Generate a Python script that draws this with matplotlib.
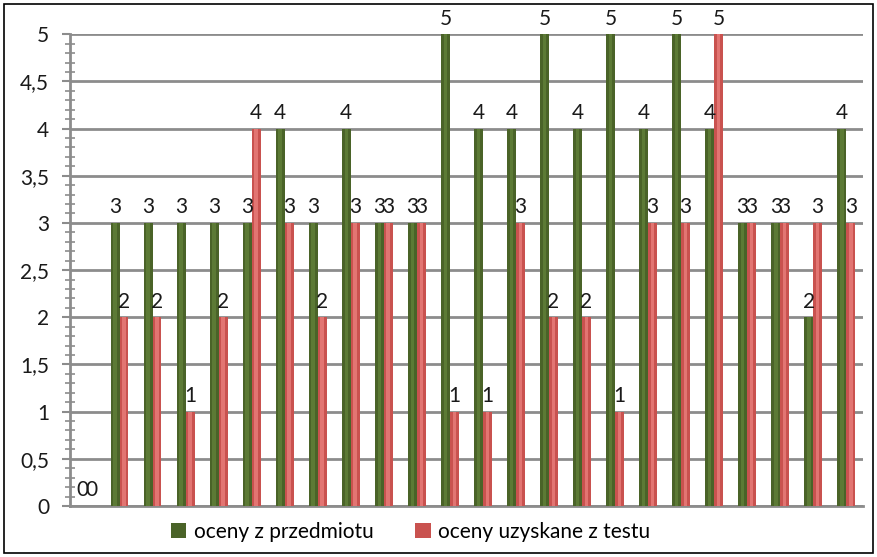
import matplotlib.pyplot as plt
import numpy as np
from matplotlib.ticker import MultipleLocator, FuncFormatter
from matplotlib.patches import Rectangle

plt.rcParams['font.family'] = ['Lato', 'DejaVu Sans']

przedmiot = [0, 3, 3, 3, 3, 3, 4, 3, 4, 3, 3, 5, 4, 4, 5, 4, 5, 4, 5, 4, 3, 3, 2, 4]
test = [0, 2, 2, 1, 2, 4, 3, 2, 3, 3, 3, 1, 1, 3, 2, 2, 1, 3, 3, 5, 3, 3, 3, 3]
names = ['oceny z przedmiotu', 'oceny uzyskane z testu']

green = '#4A6328'
green_hi = '#5C7A35'
red = '#C9524F'
red_hi = '#E27572'
grid_c = '#8C8C8C'

x = np.arange(len(przedmiot))
w = 0.27

fig = plt.figure(figsize=(8.77, 5.57), dpi=100)
ax = fig.add_axes([0.0798, 0.0916, 0.904, 0.847])

b1 = ax.bar(x - w / 2, przedmiot, w, color=green, zorder=3, label=names[0])
b2 = ax.bar(x + w / 2, test, w, color=red, zorder=3, label=names[1])
# lighter strip in the middle of each bar for a rounded look
ax.bar(x - w / 2, przedmiot, w * 0.4, color=green_hi, zorder=3.5)
ax.bar(x + w / 2, test, w * 0.4, color=red_hi, zorder=3.5)

for bars in (b1, b2):
    for r in bars:
        h = r.get_height()
        ax.annotate('%d' % h, (r.get_x() + r.get_width() / 2, h),
                    xytext=(0, 4), textcoords='offset points',
                    ha='center', va='bottom', fontsize=15, color='#1a1a1a',
                    zorder=5)

ax.set_xlim(-0.5, len(przedmiot) - 0.5)
ax.set_ylim(0, 5)
ax.yaxis.set_major_locator(MultipleLocator(0.5))
ax.yaxis.set_minor_locator(MultipleLocator(0.1))
ax.yaxis.set_major_formatter(FuncFormatter(lambda v, p: ('%g' % v).replace('.', ',')))
ax.tick_params(axis='y', which='major', direction='out', length=6, width=1.5,
               color=grid_c, labelsize=15, labelcolor='#1a1a1a', pad=9)
ax.tick_params(axis='y', which='minor', direction='inout', length=7, width=1.2,
               color=grid_c)
ax.set_xticks([])

ax.grid(axis='y', which='major', color=grid_c, linewidth=2, zorder=0)
ax.set_axisbelow(True)
for s in ('top', 'right'):
    ax.spines[s].set_visible(False)
ax.spines['left'].set_color(grid_c)
ax.spines['left'].set_linewidth(2)
ax.spines['bottom'].set_color(grid_c)
ax.spines['bottom'].set_linewidth(2)

fig.legend(handles=[b1, b2], loc='center', bbox_to_anchor=(0.468, 0.045),
           ncol=2, frameon=False, fontsize=15, handlelength=0.75,
           handleheight=0.75, handletextpad=0.35, columnspacing=2.0)

fig.patches.append(Rectangle((0.005, 0.007), 0.99, 0.986, transform=fig.transFigure,
                             fill=False, edgecolor='black', linewidth=1.2))

fig.savefig('out.png', dpi=100)
